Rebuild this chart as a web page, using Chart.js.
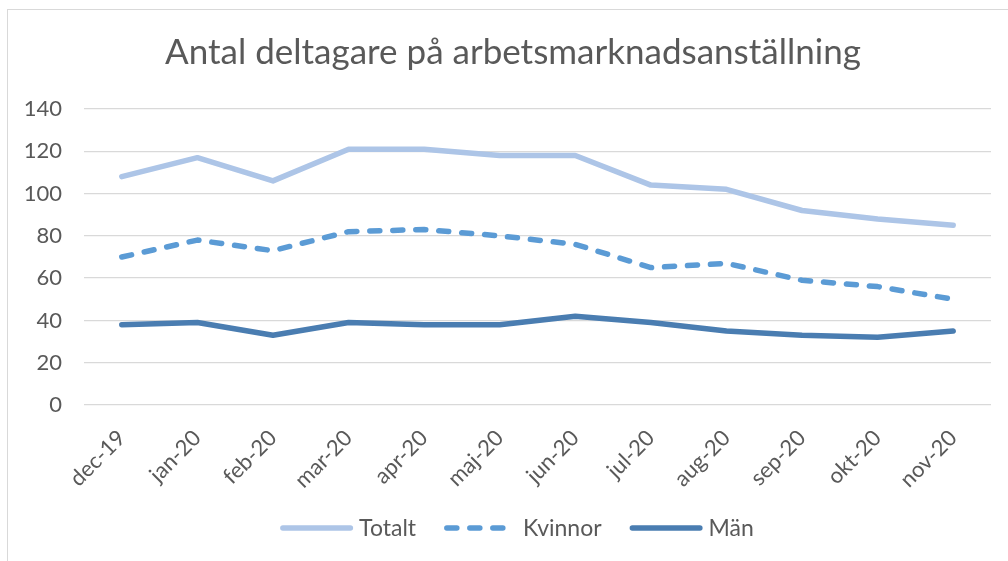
<!DOCTYPE html>
<html>
<head>
<meta charset="utf-8">
<script src="https://cdn.jsdelivr.net/npm/chart.js@4.4.1/dist/chart.umd.min.js"></script>
<style>
  html, body { margin: 0; padding: 0; background: #fff; overflow: hidden; }
  #wrap { position: relative; width: 1008px; height: 561px; }
  #frame { position: absolute; left: 7px; top: 9px; width: 1010px; height: 560px; border: 1.5px solid #d9d9d9; box-sizing: border-box; pointer-events: none; }
  canvas { position: absolute; left: 0; top: 0; }
</style>
</head>
<body>
<div id="wrap">
  <canvas id="c" width="1008" height="561"></canvas>
  <div id="frame"></div>
</div>
<script>
const categories = ["dec-19","jan-20","feb-20","mar-20","apr-20","maj-20","jun-20","jul-20","aug-20","sep-20","okt-20","nov-20"];
const totalt  = [108, 117, 106, 121, 121, 118, 118, 104, 102, 92, 88, 85];
const kvinnor = [70, 78, 73, 82, 83, 80, 76, 65, 67, 59, 56, 50];
const man     = [38, 39, 33, 39, 38, 38, 42, 39, 35, 33, 32, 35];
const yTicks  = [0, 20, 40, 60, 80, 100, 120, 140];
const titleText = "Antal deltagare på arbetsmarknadsanställning";

const FONT = "Lato";
const TXT = "#595959";

// Title drawn centred over the chart frame
const frameTitle = {
  id: "frameTitle",
  afterDraw(chart) {
    const ctx = chart.ctx;
    ctx.save();
    ctx.font = "35px " + FONT;
    ctx.fillStyle = TXT;
    ctx.textAlign = "center";
    ctx.textBaseline = "middle";
    ctx.fillText(titleText, 513, 53);
    ctx.restore();
  }
};

// Custom legend drawn with dataset styles (line samples incl. dash)
const lineLegend = {
  id: "lineLegend",
  afterDraw(chart) {
    const ctx = chart.ctx;
    const ds = chart.data.datasets;
    const fontSize = 23;
    const sampleW = 73, gapText = 6, gapItem = 28, cy = 528, centerX = 517;
    ctx.save();
    ctx.font = fontSize + "px " + FONT;
    const widths = ds.map(d => sampleW + gapText + ctx.measureText(d.label).width);
    const total = widths.reduce((a, b) => a + b, 0) + gapItem * (ds.length - 1);
    let x = centerX - total / 2;
    ds.forEach((d, i) => {
      ctx.beginPath();
      ctx.strokeStyle = d.borderColor;
      ctx.lineWidth = d.borderWidth;
      ctx.lineCap = "round";
      ctx.setLineDash(d.borderDash || []);
      const inset = d.borderWidth / 2;
      ctx.moveTo(x + inset, cy);
      ctx.lineTo(x + sampleW - inset, cy);
      ctx.stroke();
      ctx.setLineDash([]);
      ctx.fillStyle = TXT;
      ctx.textBaseline = "middle";
      ctx.textAlign = "left";
      ctx.fillText(d.label, x + sampleW + gapText, cy + 1);
      x += widths[i] + gapItem;
    });
    ctx.restore();
  }
};

new Chart(document.getElementById("c"), {
  type: "line",
  data: {
    labels: categories,
    datasets: [
      { label: "Totalt", data: totalt, borderColor: "#ADC5E7", backgroundColor: "#ADC5E7", borderWidth: 5.5, pointRadius: 0, borderCapStyle: "round", borderJoinStyle: "round", tension: 0 },
      { label: "Kvinnor", data: kvinnor, borderColor: "#5B9BD5", backgroundColor: "#5B9BD5", borderWidth: 5.5, pointRadius: 0, borderDash: [10, 13], borderCapStyle: "round", borderJoinStyle: "round", tension: 0 },
      { label: "Män", data: man, borderColor: "#4A7DB1", backgroundColor: "#4A7DB1", borderWidth: 5.5, pointRadius: 0, borderCapStyle: "round", borderJoinStyle: "round", tension: 0 }
    ]
  },
  plugins: [frameTitle, lineLegend],
  options: {
    responsive: false,
    animation: false,
    devicePixelRatio: 1,
    layout: { padding: { left: 0, right: 17, top: 109, bottom: 0 } },
    plugins: {
      title: { display: false },
      legend: { display: false },
      tooltip: { enabled: false }
    },
    scales: {
      x: {
        offset: true,
        grid: { display: false, drawTicks: false },
        border: { display: false },
        ticks: { color: TXT, font: { family: FONT, size: 22 }, maxRotation: 45, minRotation: 45, padding: 20, autoSkip: false },
        afterFit: (s) => { s.height = 156; }
      },
      y: {
        min: 0, max: 140,
        afterBuildTicks: (s) => { s.ticks = yTicks.map(v => ({ value: v })); },
        grid: { color: "#d9d9d9", lineWidth: 1.3, drawTicks: false },
        border: { display: false },
        ticks: { color: TXT, font: { family: FONT, size: 22 }, padding: 22 },
        afterFit: (s) => { s.width = 84; }
      }
    }
  }
});
</script>
</body>
</html>
